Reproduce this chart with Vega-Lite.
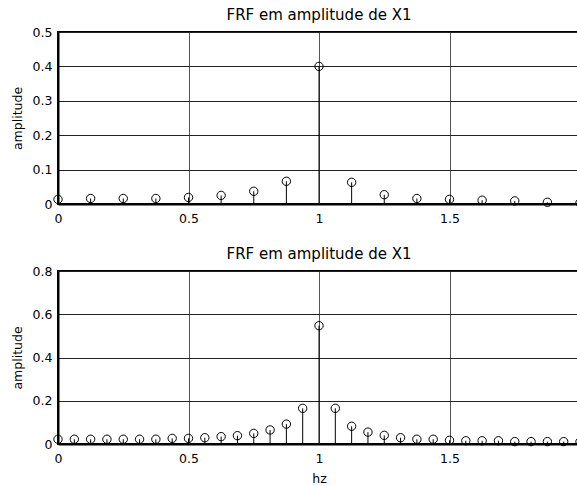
{
  "$schema": "https://vega.github.io/schema/vega-lite/v6.json",
  "autosize": {"type": "pad"},
  "padding": {"left": 10, "top": 7, "right": 0, "bottom": 0},
  "background": "white",
  "bounds": "flush",
  "spacing": 67,
  "datasets": {
    "top": [
      {"hz": 0, "amp": 0.0135},
      {"hz": 0.125, "amp": 0.016},
      {"hz": 0.25, "amp": 0.016},
      {"hz": 0.375, "amp": 0.016},
      {"hz": 0.5, "amp": 0.019},
      {"hz": 0.625, "amp": 0.025},
      {"hz": 0.75, "amp": 0.037},
      {"hz": 0.875, "amp": 0.066},
      {"hz": 1.0, "amp": 0.4},
      {"hz": 1.125, "amp": 0.063},
      {"hz": 1.25, "amp": 0.027},
      {"hz": 1.375, "amp": 0.016},
      {"hz": 1.5, "amp": 0.0135},
      {"hz": 1.625, "amp": 0.011},
      {"hz": 1.75, "amp": 0.009},
      {"hz": 1.875, "amp": 0.005},
      {"hz": 2.0, "amp": 0.003}
    ],
    "bot": [
      {"hz": 0, "amp": 0.022},
      {"hz": 0.0625, "amp": 0.022},
      {"hz": 0.125, "amp": 0.022},
      {"hz": 0.1875, "amp": 0.022},
      {"hz": 0.25, "amp": 0.022},
      {"hz": 0.3125, "amp": 0.022},
      {"hz": 0.375, "amp": 0.022},
      {"hz": 0.4375, "amp": 0.026},
      {"hz": 0.5, "amp": 0.026},
      {"hz": 0.5625, "amp": 0.029},
      {"hz": 0.625, "amp": 0.034},
      {"hz": 0.6875, "amp": 0.0385},
      {"hz": 0.75, "amp": 0.049},
      {"hz": 0.8125, "amp": 0.065},
      {"hz": 0.875, "amp": 0.092},
      {"hz": 0.9375, "amp": 0.165},
      {"hz": 1.0, "amp": 0.547},
      {"hz": 1.0625, "amp": 0.165},
      {"hz": 1.125, "amp": 0.082},
      {"hz": 1.1875, "amp": 0.055},
      {"hz": 1.25, "amp": 0.04},
      {"hz": 1.3125, "amp": 0.029},
      {"hz": 1.375, "amp": 0.022},
      {"hz": 1.4375, "amp": 0.022},
      {"hz": 1.5, "amp": 0.017},
      {"hz": 1.5625, "amp": 0.015},
      {"hz": 1.625, "amp": 0.015},
      {"hz": 1.6875, "amp": 0.015},
      {"hz": 1.75, "amp": 0.011},
      {"hz": 1.8125, "amp": 0.011},
      {"hz": 1.875, "amp": 0.011},
      {"hz": 1.9375, "amp": 0.011},
      {"hz": 2.0, "amp": 0.01}
    ]
  },
  "vconcat": [
    {
      "title": {"text": "FRF em amplitude de X1"},
      "width": 522,
      "height": 172,
      "data": {"name": "top"},
      "encoding": {
        "x": {"field": "hz", "type": "quantitative", "scale": {"domain": [0, 2], "nice": false, "zero": false},
              "axis": {"values": [0, 0.5, 1, 1.5], "format": "~g", "title": null}},
        "y": {"field": "amp", "type": "quantitative", "scale": {"domain": [0, 0.5], "nice": false},
              "axis": {"values": [0, 0.1, 0.2, 0.3, 0.4, 0.5], "format": "~g", "title": "amplitude"}}
      },
      "layer": [
        {
          "mark": {"type": "rule", "color": "black", "strokeWidth": 1},
          "encoding": {"y2": {"datum": 0}}
        },
        {
          "mark": {"type": "point", "shape": "circle", "filled": false, "color": "black", "size": 70, "strokeWidth": 1, "opacity": 1},
          "encoding": {}
        }
      ]
    },
    {
      "title": {"text": "FRF em amplitude de X1"},
      "width": 522,
      "height": 173,
      "data": {"name": "bot"},
      "encoding": {
        "x": {"field": "hz", "type": "quantitative", "scale": {"domain": [0, 2], "nice": false, "zero": false},
              "axis": {"values": [0, 0.5, 1, 1.5], "format": "~g", "title": "hz"}},
        "y": {"field": "amp", "type": "quantitative", "scale": {"domain": [0, 0.8], "nice": false},
              "axis": {"values": [0, 0.2, 0.4, 0.6, 0.8], "format": "~g", "title": "amplitude"}}
      },
      "layer": [
        {
          "mark": {"type": "rule", "color": "black", "strokeWidth": 1},
          "encoding": {"y2": {"datum": 0}}
        },
        {
          "mark": {"type": "point", "shape": "circle", "filled": false, "color": "black", "size": 70, "strokeWidth": 1, "opacity": 1},
          "encoding": {}
        }
      ]
    }
  ],
  "config": {
    "font": "DejaVu Sans",
    "view": {"stroke": "black", "strokeWidth": 2},
    "title": {"font": "DejaVu Sans", "fontSize": 15, "fontWeight": "normal", "color": "black", "offset": 3},
    "axis": {
      "labelFont": "DejaVu Sans", "labelFontSize": 12.5, "labelColor": "black", "labelFlush": false, "labelOverlap": false,
      "titleFont": "DejaVu Sans", "titleFontSize": 12.5, "titleFontWeight": "normal", "titleColor": "black",
      "ticks": false, "domainColor": "black", "domainWidth": 2,
      "gridColor": "#222222", "gridOpacity": 1, "gridWidth": 1
    },
    "axisX": {"labelPadding": 8, "titlePadding": 8, "gridColor": "#555555"},
    "axisY": {"labelPadding": 6, "titlePadding": 8}
  }
}
